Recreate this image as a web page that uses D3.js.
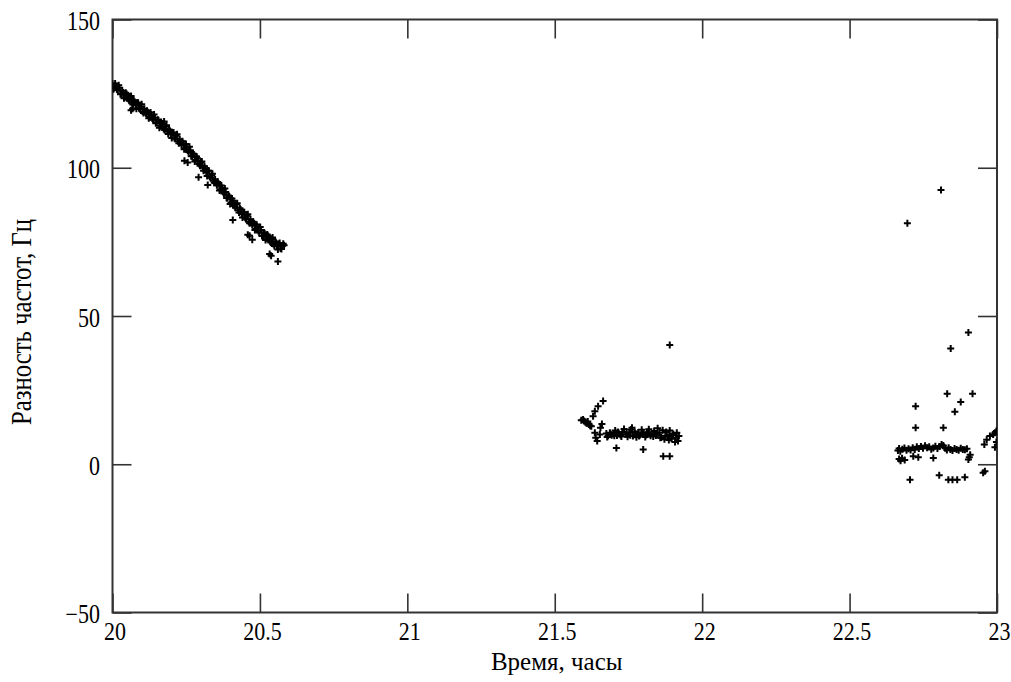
<!DOCTYPE html>
<html><head><meta charset="utf-8">
<script src="https://cdn.jsdelivr.net/npm/d3@7"></script>
<style>
html,body{margin:0;padding:0;background:#fff;}
svg{display:block;}
text{font-family:"Liberation Serif","Times New Roman",serif;fill:#000;}
</style></head>
<body><svg id="chart" width="1011" height="682"></svg>
<script>
// ---- data ----
const xTicks = [20, 20.5, 21, 21.5, 22, 22.5, 23];
const yTicks = [-50, 0, 50, 100, 150];
const xTitle = "Время, часы";
const yTitle = "Разность частот, Гц";

// pass 1 (20.0 – 20.58 h)
const time1 = [20.000,20.006,20.012,20.018,20.024,20.030,20.036,20.042,20.048,20.054,20.060,20.066,20.072,20.078,20.084,20.090,20.096,20.102,20.108,20.114,20.120,20.126,20.132,20.138,20.144,20.150,20.156,20.162,20.168,20.174,20.180,20.186,20.192,20.198,20.204,20.210,20.216,20.222,20.228,20.234,20.240,20.246,20.252,20.258,20.264,20.270,20.276,20.282,20.288,20.294,20.300,20.306,20.312,20.318,20.324,20.330,20.336,20.342,20.348,20.354,20.360,20.366,20.372,20.378,20.384,20.390,20.396,20.402,20.408,20.414,20.420,20.426,20.432,20.438,20.444,20.450,20.456,20.462,20.468,20.474,20.480,20.486,20.492,20.498,20.504,20.510,20.516,20.522,20.528,20.534,20.540,20.546,20.552,20.558,20.564,20.570,20.576,20.582,
  20.003,20.009,20.015,20.021,20.027,20.033,20.039,20.045,20.051,20.057,20.063,20.069,20.075,20.081,20.087,20.093,20.099,20.105,20.111,20.117,20.123,20.129,20.135,20.141,20.147,20.153,20.159,20.165,20.171,20.177,20.183,20.189,20.195,20.201,20.207,20.213,20.219,20.225,20.231,20.237,20.243,20.249,20.255,20.261,20.267,20.273,20.279,20.285,20.291,20.297,20.303,20.309,20.315,20.321,20.327,20.333,20.339,20.345,20.351,20.357,20.363,20.369,20.375,20.381,20.387,20.393,20.399,20.405,20.411,20.417,20.423,20.429,20.435,20.441,20.447,20.453,20.459,20.465,20.471,20.477,20.483,20.489,20.495,20.501,20.507,20.513,20.519,20.525,20.531,20.537,20.543,20.549,20.555,20.561,20.567,20.573,20.579,
  20.063,20.068,20.175,20.244,20.255,20.292,20.323,20.408,20.459,20.465,20.474,20.533,20.538,20.561];
const freq1 = [128.4,126.9,127.5,126.2,127.0,125.0,125.4,123.8,124.9,123.2,123.5,121.9,122.8,121.2,121.9,120.1,120.6,119.0,119.9,118.3,118.7,117.1,117.9,116.2,116.9,115.3,116.0,114.2,114.9,113.1,113.9,112.2,112.9,111.3,111.8,110.0,110.8,108.9,109.6,107.7,108.3,106.6,107.1,105.3,105.9,104.0,104.5,102.6,103.2,101.3,101.8,100.0,100.5,98.5,99.0,97.0,97.5,95.6,96.1,94.1,94.6,92.7,93.2,91.3,91.8,89.8,90.3,88.3,88.9,87.1,87.7,85.7,86.3,84.4,85.0,83.1,83.8,81.8,82.6,80.7,81.3,79.4,80.1,78.2,79.0,77.1,77.9,76.2,77.0,75.2,76.0,74.3,75.1,73.5,74.3,72.8,73.6,73.9,
  126.5,128.4,126.4,127.8,124.8,126.0,123.4,125.3,124.1,122.6,124.2,121.3,122.3,119.9,121.9,119.8,121.4,118.5,118.7,119.2,116.7,118.6,116.6,118.0,115.0,116.2,113.5,115.4,114.2,112.7,114.3,111.4,112.4,110.0,111.9,109.8,111.3,108.3,108.4,108.9,106.2,108.0,105.8,107.1,103.9,104.8,102.1,103.8,102.4,100.7,102.1,99.0,99.8,97.2,99.0,96.6,98.0,94.9,94.9,95.2,92.3,94.0,91.8,93.0,89.8,90.6,87.8,89.6,88.2,86.5,88.0,84.9,85.8,83.2,85.0,82.8,84.3,81.3,81.4,81.8,79.0,80.8,78.7,80.0,77.0,78.2,75.6,77.5,76.3,74.8,76.5,73.6,74.7,72.4,74.6,72.6,74.4,
  119.4,119.9,115.6,102.4,101.8,96.8,94.2,82.4,77.4,77.1,75.7,70.9,70.3,68.4];

// pass 2 (21.59 – 21.93 h)
const time2 = [21.590,21.596,21.600,21.604,21.608,21.612,21.616,21.620,21.624,21.630,21.636,21.647,21.664,21.636,21.653,21.639,21.644,21.655,21.660,
  21.675,21.681,21.687,21.693,21.699,21.705,21.709,21.711,21.717,21.723,21.729,21.735,21.741,21.747,21.753,21.759,21.762,21.765,21.771,21.777,21.783,21.789,21.795,21.800,21.801,21.807,21.813,21.819,21.825,21.831,21.837,21.843,21.849,21.855,21.861,21.866,21.868,21.872,21.878,21.884,21.890,21.890,21.890,21.896,21.902,21.908,21.914,21.918,21.921,
  21.678,21.690,21.702,21.714,21.726,21.744,21.756,21.774,21.786,21.798,21.810,21.822,21.834,21.846,21.858,21.875,21.887,21.899,21.911];
const freq2 = [14.8,15.1,14.6,14.2,13.8,14.4,13.4,13.0,12.8,16.2,17.9,19.6,21.3,10.6,10.0,8.9,7.8,12.3,13.6,
  10.4,9.6,10.6,9.8,10.2,11.4,5.5,9.7,10.5,9.9,10.8,11.9,10.1,9.3,10.6,11.7,12.3,9.5,10.9,9.1,10.7,9.9,11.6,5.0,10.3,9.2,10.8,11.8,9.6,10.4,11.2,9.7,12.1,10.6,9.0,11.5,2.7,8.4,10.9,9.3,2.7,40.2,11.4,8.6,10.2,7.5,10.6,7.8,9.5,
  9.2,10.1,9.6,10.9,9.4,10.7,9.8,10.4,9.5,10.0,9.9,10.2,9.4,10.3,8.9,9.6,8.2,9.9,8.9];

// pass 3 (22.66 – 23.0 h)
const time3 = [22.664,22.668,22.672,22.679,22.686,22.693,22.700,22.707,22.714,22.721,22.728,22.735,22.742,22.749,22.756,22.763,22.770,22.777,22.784,22.791,22.798,22.805,22.812,22.818,22.824,22.830,22.836,22.842,22.849,22.856,22.863,22.870,22.877,22.884,22.891,22.898,
  22.668,22.673,22.678,22.687,22.716,22.733,22.784,22.903,22.906,22.909,
  22.705,22.804,22.835,22.849,22.865,22.891,22.953,22.959,
  22.810,22.696,22.903,22.843,22.831,22.917,22.877,22.857,22.724,22.724,22.818,
  22.957,22.965,22.976,22.987,22.993,22.998,22.993,22.998];
const freq3 = [4.6,5.3,4.4,5.1,5.5,4.7,5.2,4.8,5.6,5.0,5.9,5.3,6.0,5.4,6.2,5.6,5.9,5.1,5.5,6.1,5.3,6.0,6.7,6.3,5.4,4.8,5.6,5.0,4.6,5.3,5.0,4.7,5.4,5.0,4.9,5.2,
  1.8,1.2,2.0,1.4,2.7,2.4,2.1,1.6,2.4,3.2,
  -5.2,-3.7,-5.2,-5.2,-5.2,-4.4,-2.9,-2.4,
  92.5,81.3,44.4,39.0,23.8,23.8,21.0,17.7,19.6,12.3,12.3,
  6.7,8.3,9.5,10.0,10.6,11.2,5.7,7.5];

const series = [[time1,freq1],[time2,freq2],[time3,freq3]];

// ---- drawing ----
const W = 1011, H = 682;
const m = {left:112.5, top:19.5, right:14, bottom:69.5};
const svg = d3.select("#chart");
const x = d3.scaleLinear().domain([20,23]).range([m.left, W-m.right]);
const y = d3.scaleLinear().domain([-50,150]).range([H-m.bottom, m.top]);

svg.append("clipPath").attr("id","pc").append("rect")
  .attr("x",m.left).attr("y",m.top).attr("width",x(23)-x(20)).attr("height",y(-50)-y(150));

const tickLen = 19, axisColor = "#333";
const gb = svg.append("g").attr("transform",`translate(0,${y(-50)})`)
  .call(d3.axisTop(x).tickValues(xTicks).tickSize(tickLen).tickFormat(""));
const gt = svg.append("g").attr("transform",`translate(0,${y(150)})`)
  .call(d3.axisBottom(x).tickValues(xTicks).tickSize(tickLen).tickFormat(""));
const gl = svg.append("g").attr("transform",`translate(${x(20)},0)`)
  .call(d3.axisRight(y).tickValues(yTicks).tickSize(tickLen).tickFormat(""));
const gr = svg.append("g").attr("transform",`translate(${x(23)},0)`)
  .call(d3.axisLeft(y).tickValues(yTicks).tickSize(tickLen).tickFormat(""));
[gb,gt,gl,gr].forEach(g=>{
  g.select(".domain").remove();
  g.selectAll("line").attr("stroke",axisColor).attr("stroke-width",1.6);
});

// tick labels (slightly tall glyphs as in the reference)
const fmt = d => String(d).replace("-", "\u2212");
svg.append("g").selectAll("text").data(xTicks).join("text")
  .attr("transform",d=>`translate(${x(d)+2.5},${y(-50)+27}) scale(1,1.15)`)
  .attr("text-anchor","middle").attr("font-size",22).text(d=>d);
svg.append("g").selectAll("text").data(yTicks).join("text")
  .attr("transform",d=>`translate(${x(20)-12.5},${y(d)+10.5}) scale(1,1.2)`)
  .attr("text-anchor","end").attr("font-size",22).text(fmt);

// frame
svg.append("rect").attr("x",m.left).attr("y",m.top)
  .attr("width",x(23)-x(20)).attr("height",y(-50)-y(150))
  .attr("fill","none").attr("stroke",axisColor).attr("stroke-width",2);

// points
const cross = "M-3.5,0H3.5M0,-3.5V3.5";
const pg = svg.append("g").attr("clip-path","url(#pc)");
series.forEach(([ts,vs])=>{
  pg.append("g").selectAll("path").data(d3.range(ts.length)).join("path")
    .attr("transform",i=>`translate(${x(ts[i])},${y(vs[i])})`)
    .attr("d",cross).attr("stroke","#000").attr("stroke-width",2).attr("fill","none");
});

// titles
svg.append("text").attr("x",(x(20)+x(23))/2+2).attr("y",670)
  .attr("text-anchor","middle").attr("font-size",25).text(xTitle);
svg.append("text").attr("transform",`translate(31,${(y(-50)+y(150))/2+6}) rotate(-90) scale(1,1.2)`)
  .attr("text-anchor","middle").attr("font-size",24.8).text(yTitle);
</script></body></html>
